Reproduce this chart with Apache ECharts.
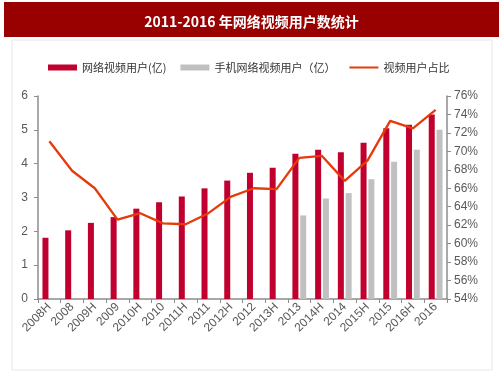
<!DOCTYPE html>
<html><head><meta charset="utf-8">
<script src="https://cdn.jsdelivr.net/npm/echarts@6/dist/echarts.min.js"></script>
<style>html,body{margin:0;padding:0;background:#fff}#c{width:503px;height:378px}</style>
</head><body><div id="c"></div>
<script>
const categories = ['2008H','2008','2009H','2009','2010H','2010','2011H','2011','2012H','2012','2013H','2013','2014H','2014','2015H','2015','2016H','2016'];
const videoUsers = [1.81,2.03,2.25,2.42,2.67,2.86,3.03,3.27,3.50,3.73,3.88,4.29,4.41,4.34,4.62,5.05,5.15,5.45];
const mobileUsers = [null,null,null,null,null,null,null,null,null,null,null,2.47,2.97,3.13,3.54,4.06,4.41,5.00];
const shareRate = [71.1,67.9,66.0,62.6,63.3,62.2,62.1,63.3,65.1,66.0,65.9,69.3,69.5,66.8,69.0,73.3,72.5,74.5];
const leftTicks = {min:0,max:6,interval:1};
const rightTicks = {min:54,max:76,interval:2};

const chart = echarts.init(document.getElementById('c'));
const axisFont = {fontFamily:'Liberation Sans, Arial, sans-serif', fontSize:11, color:'#595959'};
chart.setOption({
  animation:false,
  backgroundColor:'#fff',
  graphic:[
    {type:'rect', shape:{x:4,y:2,width:495,height:35}, style:{fill:'#990000'}, z:-1},
    {type:'rect', shape:{x:12,y:40,width:480,height:330}, style:{fill:'none',stroke:'#e6e6e6',lineWidth:1}, z:-1}
  ],
  title:{text:'2011-2016 年网络视频用户数统计', left:'center', top:10,
    textStyle:{color:'#fff', fontSize:14, fontWeight:'bold', fontFamily:'Noto Sans CJK SC, serif'}},
  legend:{top:57, left:43, itemWidth:29, itemHeight:6, itemGap:14,
    textStyle:{fontSize:11, color:'#333', fontFamily:'Noto Sans CJK SC, sans-serif'},
    data:[{name:'网络视频用户(亿)', icon:'rect'},{name:'手机网络视频用户（亿）', icon:'rect'},
      {name:'视频用户占比', icon:'path://M0,0L0.01,0L0.01,0.01L0,0.01ZM0,2L29,2L29,4L0,4ZM28.99,5.99L29,5.99L29,6L28.99,6Z'}]},
  grid:{left:38, right:56, top:96, bottom:79},
  xAxis:{type:'category', data:categories,
    axisLine:{lineStyle:{color:'#8c8c8c', width:1.5}},
    axisTick:{show:true, length:4, lineStyle:{color:'#8c8c8c'}},
    axisLabel:Object.assign({rotate:45, interval:0, margin:6}, axisFont, {fontSize:12})},
  yAxis:[
    {type:'value', min:leftTicks.min, max:leftTicks.max, interval:leftTicks.interval, position:'left',
      splitLine:{show:false}, axisLine:{show:true, lineStyle:{color:'#8c8c8c', width:1.5}},
      axisTick:{show:true, length:4, lineStyle:{color:'#8c8c8c'}},
      axisLabel:Object.assign({margin:10}, axisFont, {fontSize:12})},
    {type:'value', min:rightTicks.min, max:rightTicks.max, interval:rightTicks.interval, position:'right',
      splitLine:{show:false}, axisLine:{show:true, lineStyle:{color:'#8c8c8c', width:1.5}},
      axisTick:{show:true, length:4, lineStyle:{color:'#8c8c8c'}},
      axisLabel:Object.assign({margin:7, formatter:'{value}%'}, axisFont, {fontSize:12})}
  ],
  series:[
    {name:'网络视频用户(亿)', type:'bar', data:videoUsers, barWidth:6, barGap:'30%', itemStyle:{color:'#c0002e'}},
    {name:'手机网络视频用户（亿）', type:'bar', data:mobileUsers, barWidth:6, itemStyle:{color:'#c0c0c0'}},
    {name:'视频用户占比', type:'line', yAxisIndex:1, data:shareRate, symbol:'none',
      lineStyle:{color:'#e63a0a', width:2.3}, itemStyle:{color:'#e63a0a'}}
  ]
});
</script></body></html>
